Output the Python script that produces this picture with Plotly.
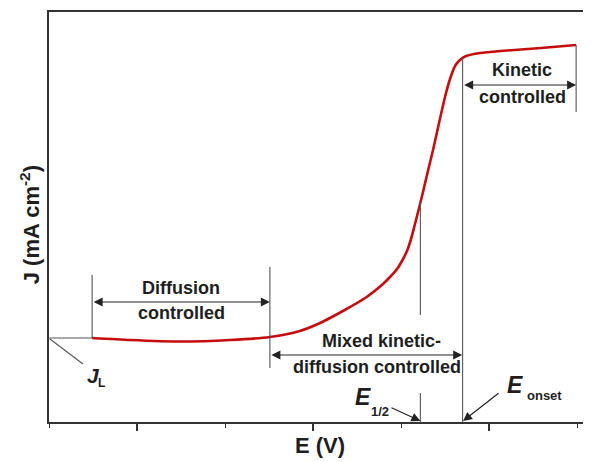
import plotly.graph_objects as go

# ---- data ----
E_V = [0.149, 0.192, 0.249, 0.306, 0.351, 0.385, 0.408, 0.434, 0.461, 0.4795,
       0.4875, 0.4955, 0.5011, 0.5068, 0.5114, 0.5159, 0.5205, 0.5250, 0.5295, 0.5364,
       0.5432, 0.550, 0.5557, 0.5614, 0.5670, 0.5739, 0.590, 0.613, 0.659, 0.699]
J_mA = [8.4, 8.2, 8.05, 8.2, 8.5, 9.1, 9.9, 11.1, 12.5, 13.8,
        14.5, 15.3, 16.1, 17.1, 18.3, 19.8, 21.4, 23.0, 24.7, 27.2,
        29.9, 32.5, 34.3, 35.6, 36.2, 36.6, 36.9, 37.1, 37.4, 37.7]

E_START = E_V[0]
E_END = E_V[-1]
J_L = J_mA[0]
E_DIFF_END = 0.351
E_HALF = 0.522
E_ONSET = 0.570

X_RANGE = [0.1, 0.7159]
Y_RANGE = [0, 41]

FONT = "Liberation Sans, Arial, sans-serif"
TXT = "#1e1e1e"
LN = "#555555"

fig = go.Figure()
fig.add_trace(go.Scatter(x=E_V, y=J_mA, mode="lines",
                         line=dict(color="#c40d0d", width=2.6, shape="spline", smoothing=0.6),
                         hoverinfo="skip", showlegend=False))

def vline(x, y0, y1):
    fig.add_shape(type="line", x0=x, x1=x, y0=y0, y1=y1, xref="x", yref="y",
                  line=dict(color=LN, width=1.1))

def seg(x0, y0, x1, y1):
    fig.add_shape(type="line", x0=x0, x1=x1, y0=y0, y1=y1, xref="x", yref="y",
                  line=dict(color=LN, width=1.1))

def arrow(x_head, y_head, x_tail, y_tail, both=False):
    fig.add_annotation(x=x_head, y=y_head, ax=x_tail, ay=y_tail, xref="x", yref="y",
                       axref="x", ayref="y", text="", showarrow=True,
                       arrowhead=2, arrowsize=1.5, arrowwidth=1.2, arrowcolor="#222",
                       arrowside="end+start" if both else "end", standoff=0, startstandoff=0)

def label(x, y, text, size=18, italic=False):
    t = f"<b>{text}</b>"
    if italic:
        t = f"<b><i>{text}</i></b>"
    fig.add_annotation(x=x, y=y, xref="x", yref="y", text=t, showarrow=False,
                       font=dict(family=FONT, size=size, color=TXT),
                       xanchor="center", yanchor="middle")

# J_L reference line
seg(X_RANGE[0], J_L, E_START, J_L)
seg(0.1011, 8.3, 0.1386, 5.8)
label(0.150, 4.7, "J", size=21, italic=True)
label(0.1602, 3.9, "L", size=12)

# Diffusion controlled
vline(E_START, 14.7, J_L)
vline(E_DIFF_END, 15.5, 5.4)
arrow(E_DIFF_END, 12.0, E_START, 12.0, both=True)
label(0.250, 13.4, "Diffusion")
label(0.250, 10.9, "controlled")

# Mixed kinetic-diffusion controlled
arrow(E_ONSET - 0.0005, 6.7, E_DIFF_END, 6.7, both=True)
label(0.4773, 8.1, "Mixed kinetic-")
label(0.4727, 5.5, "diffusion controlled")

# E1/2
vline(E_HALF, 22.1, 10.7)
vline(E_HALF, 2.9, 0)
label(0.4568, 2.5, "E", size=23, italic=True)
label(0.4761, 1.1, "1/2", size=13)
arrow(E_HALF, 0.1, 0.4875, 1.5)

# E onset
vline(E_ONSET, 36.4, 0)
label(0.6295, 3.7, "E", size=23, italic=True)
label(0.663, 2.7, "onset", size=13)
arrow(E_ONSET + 0.0005, 0.1, 0.6125, 3.0)

# Kinetic controlled
vline(E_END, 37.7, 31.0)
arrow(E_END, 33.7, E_ONSET, 33.7, both=True)
label(0.6375, 35.2, "Kinetic")
label(0.6375, 32.5, "controlled")

# y-axis title
fig.add_annotation(x=-0.035, y=0.48, xref="paper", yref="paper",
                   text="<b>J (mA cm<sup>-2</sup>)</b>", textangle=-90, showarrow=False,
                   font=dict(family=FONT, size=22, color=TXT),
                   xanchor="center", yanchor="middle")

# the page body has an 8px default margin, so the figure is sized/offset to land at (0,0)-(591,462)
fig.update_layout(
    width=583, height=454,
    margin=dict(l=41, r=0, t=4, b=40),
    paper_bgcolor="white", plot_bgcolor="white",
    showlegend=False,
    xaxis=dict(range=X_RANGE, showgrid=False, zeroline=False,
               showline=True, linecolor="#333", linewidth=1.6, mirror=True,
               ticks="outside", ticklen=7, tickwidth=1.6, tickcolor="#333",
               tick0=0.2, dtick=0.2, showticklabels=False,
               minor=dict(ticks="outside", ticklen=4, tickwidth=1.4, tickcolor="#333",
                          tick0=0.1, dtick=0.1, showgrid=False),
               title=dict(text="<b>E (V)</b>", font=dict(family=FONT, size=22, color=TXT),
                          standoff=8)),
    yaxis=dict(range=Y_RANGE, showgrid=False, zeroline=False,
               showline=True, linecolor="#333", linewidth=1.6, mirror=False,
               ticks="", showticklabels=False),
)

fig.write_html("out.html")
